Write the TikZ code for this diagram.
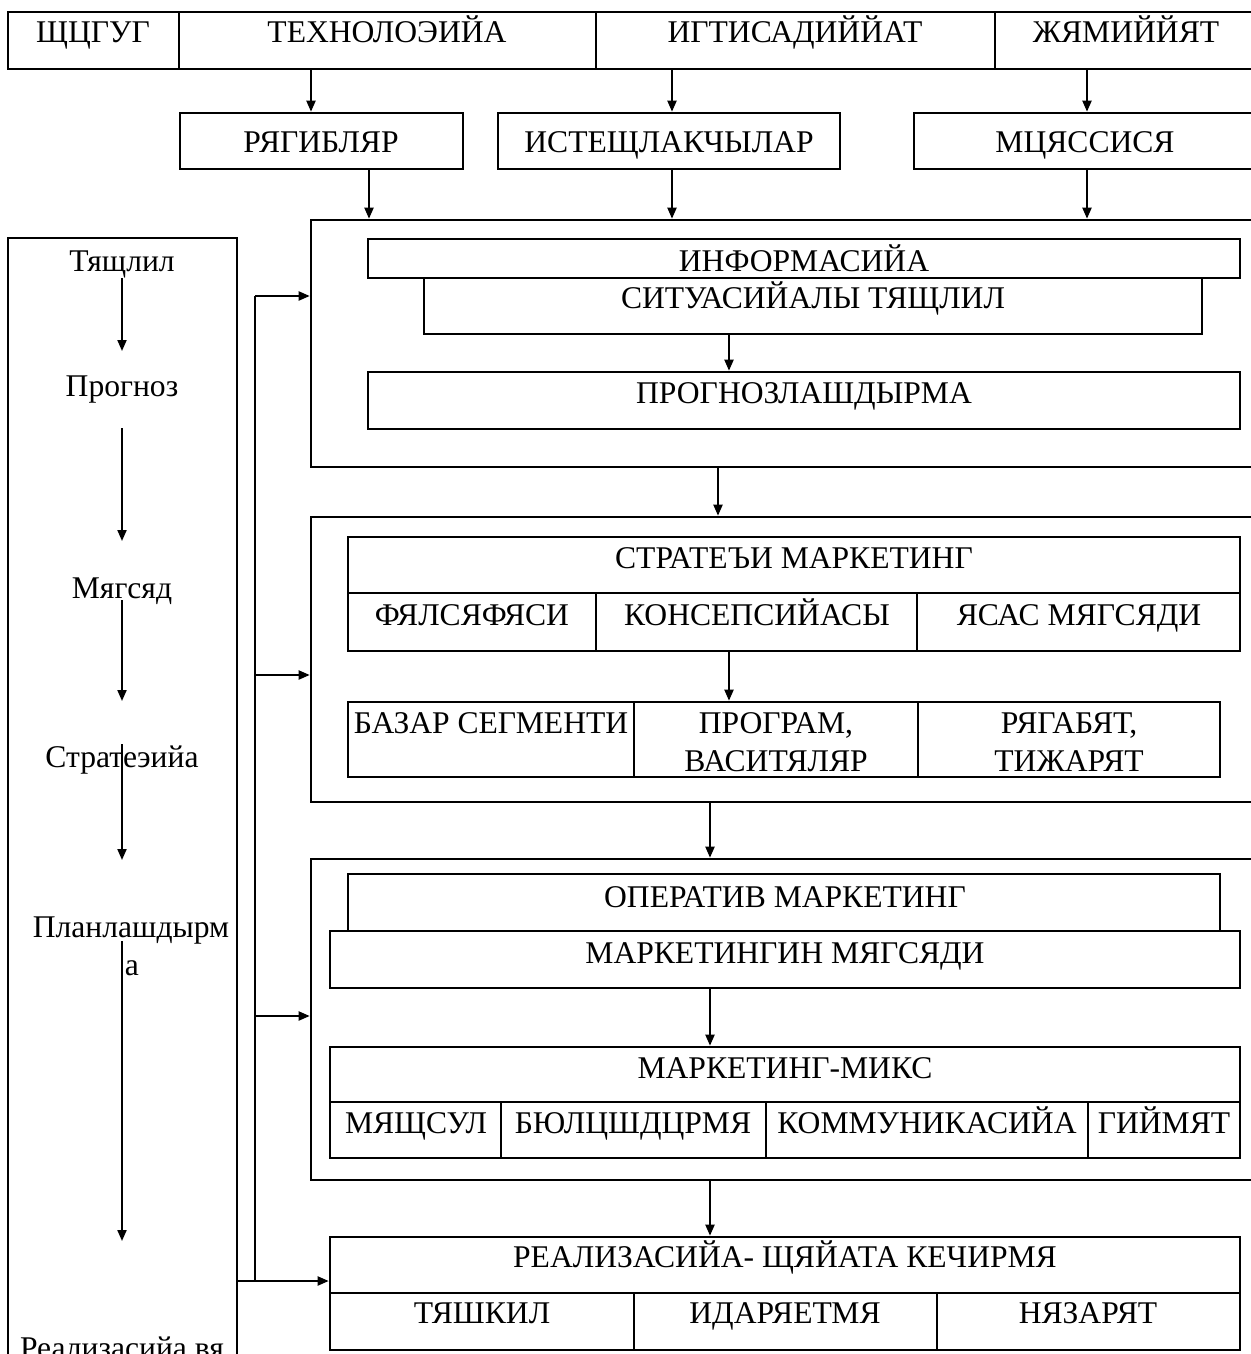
\documentclass[tikz,border=0pt]{standalone}
\usepackage{fontspec}
\setmainfont{Liberation Serif}
\usetikzlibrary{arrows.meta,fit}
\begin{document}
\begin{tikzpicture}[x=0.5pt,y=-0.5pt,
  bx/.style={draw,line width=1.3pt,inner sep=0pt,rectangle},
  tx/.style={font=\fontsize{15.8}{19}\selectfont,anchor=base,inner sep=0pt},
  ln/.style={line width=1pt},
  arr/.style={line width=1pt,-{Triangle[length=5.5pt,width=4.5pt]}}]
\useasboundingbox[fill=white] (0,0) rectangle (1251,1354);
% top row
\node[bx,fit={(8,12)(179,69)}] (t1) {};
\node[bx,fit={(179,12)(596,69)}] (t2) {};
\node[bx,fit={(596,12)(995,69)}] (t3) {};
\node[bx,fit={(995,12)(1260,69)}] (t4) {};
\node[tx] (t1l) at (93,43) {ЩЦГУГ};
\node[tx] (t2l) at (387,43) {ТЕХНОЛОЭИЙА};
\node[tx] (t3l) at (795,43) {ИГТИСАДИЙЙАТ};
\node[tx] (t4l) at (1126,43) {ЖЯМИЙЙЯТ};
% second row
\node[bx,fit={(180,113)(463,169)}] (r1) {};
\node[bx,fit={(498,113)(840,169)}] (r2) {};
\node[bx,fit={(914,113)(1260,169)}] (r3) {};
\node[tx] (r1l) at (321,152) {РЯГИБЛЯР};
\node[tx] (r2l) at (669,152) {ИСТЕЩЛАКЧЫЛАР};
\node[tx] (r3l) at (1085,152) {МЦЯССИСЯ};
% block 1
\node[bx,fit={(311,220)(1260,467)}] (B1) {};
\node[bx,fit={(368,239)(1240,278)}] (info) {};
\node[bx,fit={(424,278)(1202,334)}] (sit) {};
\node[bx,fit={(368,372)(1240,429)}] (prog) {};
\node[tx] (infol) at (804,271) {ИНФОРМАСИЙА};
\node[tx] (sitl) at (813,308) {СИТУАСИЙАЛЫ ТЯЩЛИЛ};
\node[tx] (progl) at (804,403) {ПРОГНОЗЛАШДЫРМА};
% block 2
\node[bx,fit={(311,517)(1260,802)}] (B2) {};
\node[bx,fit={(348,537)(1240,593)}] (strat) {};
\node[bx,fit={(348,593)(596,651)}] (s1) {};
\node[bx,fit={(596,593)(917,651)}] (s2) {};
\node[bx,fit={(917,593)(1240,651)}] (s3) {};
\node[tx] (stratl) at (794,568) {СТРАТЕЪИ МАРКЕТИНГ};
\node[tx] (s1l) at (472,625) {ФЯЛСЯФЯСИ};
\node[tx] (s2l) at (757,625) {КОНСЕПСИЙАСЫ};
\node[tx] (s3l) at (1079,625) {ЯСАС МЯГСЯДИ};
\node[bx,fit={(348,702)(634,777)}] (b1) {};
\node[bx,fit={(634,702)(918,777)}] (b2) {};
\node[bx,fit={(918,702)(1220,777)}] (b3) {};
\node[tx] (b1l) at (491,733) {БАЗАР СЕГМЕНТИ};
\node[tx] (b2l) at (776,733) {ПРОГРАМ,};
\node[tx] (b2m) at (776,771) {ВАСИТЯЛЯР};
\node[tx] (b3l) at (1069,733) {РЯГАБЯТ,};
\node[tx] (b3m) at (1069,771) {ТИЖАРЯТ};
% block 3
\node[bx,fit={(311,859)(1260,1180)}] (B3) {};
\node[bx,fit={(348,874)(1220,931)}] (oper) {};
\node[bx,fit={(330,931)(1240,988)}] (mm) {};
\node[bx,fit={(330,1047)(1240,1102)}] (mix) {};
\node[bx,fit={(330,1102)(501,1158)}] (m1) {};
\node[bx,fit={(501,1102)(766,1158)}] (m2) {};
\node[bx,fit={(766,1102)(1088,1158)}] (m3) {};
\node[bx,fit={(1088,1102)(1240,1158)}] (m4) {};
\node[tx] (operl) at (785,907) {ОПЕРАТИВ МАРКЕТИНГ};
\node[tx] (mml) at (785,963) {МАРКЕТИНГИН МЯГСЯДИ};
\node[tx] (mixl) at (785,1078) {МАРКЕТИНГ-МИКС};
\node[tx] (m1l) at (416,1133) {МЯЩСУЛ};
\node[tx] (m2l) at (633,1133) {БЮЛЦШДЦРМЯ};
\node[tx] (m3l) at (927,1133) {КОММУНИКАСИЙА};
\node[tx] (m4l) at (1164,1133) {ГИЙМЯТ};
% realisation
\node[bx,fit={(330,1237)(1240,1293)}] (real) {};
\node[bx,fit={(330,1293)(634,1350)}] (e1) {};
\node[bx,fit={(634,1293)(937,1350)}] (e2) {};
\node[bx,fit={(937,1293)(1240,1350)}] (e3) {};
\node[tx] (reall) at (785,1267) {РЕАЛИЗАСИЙА- ЩЯЙАТА КЕЧИРМЯ};
\node[tx] (e1l) at (482,1323) {ТЯШКИЛ};
\node[tx] (e2l) at (785,1323) {ИДАРЯЕТМЯ};
\node[tx] (e3l) at (1088,1323) {НЯЗАРЯТ};
% left column
\node[bx,fit={(8,238)(237,1380)}] (L) {};
\node[tx] (c1) at (122,271) {Тящлил};
\node[tx] (c2) at (122,396) {Прогноз};
\node[tx] (c3) at (122,598) {Мягсяд};
\node[tx] (c4) at (122,767) {Стратеэийа};
\node[tx] (c5) at (131,937) {Планлашдырм};
\node[tx] (c5b) at (132,975) {а};
\node[tx] (c6) at (122,1358) {Реализасийа вя};
% arrows top
\coordinate (xa) at (311,0);
\coordinate (xb) at (672,0);
\coordinate (xc) at (1087,0);
\coordinate (xd) at (369,0);
\draw[arr] (xa |- t2.south) -- (xa |- r1.north);
\draw[arr] (xb |- t3.south) -- (xb |- r2.north);
\draw[arr] (xc |- t4.south) -- (xc |- r3.north);
\draw[arr] (xd |- r1.south) -- (xd |- B1.north);
\draw[arr] (xb |- r2.south) -- (xb |- B1.north);
\draw[arr] (xc |- r3.south) -- (xc |- B1.north);
% inner arrows
\coordinate (xe) at (729,0);
\coordinate (xf) at (718,0);
\coordinate (xg) at (710,0);
\draw[arr] (xe |- sit.south) -- (xe |- prog.north);
\draw[arr] (xf |- B1.south) -- (xf |- B2.north);
\draw[arr] (xe |- s2.south) -- (xe |- b2.north);
\draw[arr] (xg |- B2.south) -- (xg |- B3.north);
\draw[arr] (xg |- mm.south) -- (xg |- mix.north);
\draw[arr] (xg |- B3.south) -- (xg |- real.north);
% feedback connector
\coordinate (j0) at (255,296);
\coordinate (j1) at (255,675);
\coordinate (j2) at (255,1016);
\coordinate (j3) at (255,1281);
\draw[ln] (j0) -- (j3);
\draw[arr] (j0) -- (j0 -| B1.west);
\draw[arr] (j1) -- (j1 -| B2.west);
\draw[arr] (j2) -- (j2 -| B3.west);
\draw[arr] (L.east |- j3) -- (j3 -| real.west);
% left column arrows
\coordinate (a1s) at (122,278); \coordinate (a1e) at (122,351);
\coordinate (a2s) at (122,428); \coordinate (a2e) at (122,541);
\coordinate (a3s) at (122,600); \coordinate (a3e) at (122,701);
\coordinate (a4s) at (122,744); \coordinate (a4e) at (122,860);
\coordinate (a5s) at (122,941); \coordinate (a5e) at (122,1241);
\draw[arr] (a1s) -- (a1e);
\draw[arr] (a2s) -- (a2e);
\draw[arr] (a3s) -- (a3e);
\draw[arr] (a4s) -- (a4e);
\draw[arr] (a5s) -- (a5e);
\end{tikzpicture}
\end{document}
